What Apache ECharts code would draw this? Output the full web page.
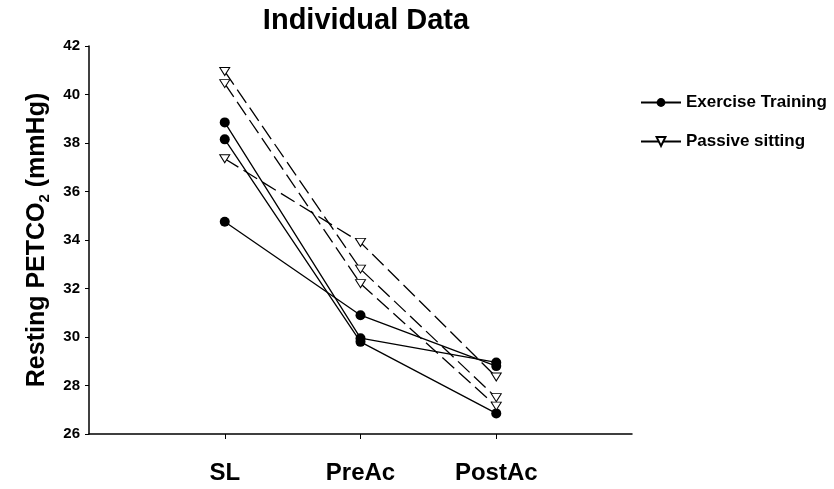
<!DOCTYPE html>
<html>
<head>
<meta charset="utf-8">
<script src="https://cdn.jsdelivr.net/npm/echarts@6/dist/echarts.min.js"></script>
<style>html,body{margin:0;padding:0;background:#fff;}#c{width:834px;height:489px;}</style>
</head>
<body>
<div id="c"></div>
<script>
const categories = ['SL', 'PreAc', 'PostAc'];
const yTicks = [26, 28, 30, 32, 34, 36, 38, 40, 42];
// Exercise Training subjects
const ex1 = [38.85, 29.95, 28.95];
const ex2 = [38.15, 29.8, 26.85];
const ex3 = [34.75, 30.9, 28.8];
// Passive sitting subjects
const ps1 = [40.95, 32.8, 27.5];
const ps2 = [40.45, 32.2, 27.15];
const ps3 = [37.35, 33.9, 28.35];

const FONT = '"Liberation Sans", Arial, Helvetica, sans-serif';
const axisData = [''].concat(categories, ['']);
const toPairs = arr => categories.map((c, i) => [c, arr[i]]);

function exSeries(arr) {
  return {
    name: 'Exercise Training', type: 'line', data: toPairs(arr),
    symbol: 'circle', symbolSize: 10,
    itemStyle: { color: '#000' },
    lineStyle: { color: '#000', width: 1.3, type: 'solid' },
    emphasis: { disabled: true }, animation: false
  };
}
function psSeries(arr) {
  return {
    name: 'Passive sitting', type: 'line', data: toPairs(arr),
    symbol: 'triangle', symbolSize: [10, 8], symbolRotate: 180,
    itemStyle: { color: '#fff', borderColor: '#000', borderWidth: 1 },
    lineStyle: { color: '#000', width: 1.3, type: [16, 6] },
    emphasis: { disabled: true }, animation: false, z: 3
  };
}

const chart = echarts.init(document.getElementById('c'), null, { renderer: 'canvas' });
chart.setOption({
  backgroundColor: '#fff',
  animation: false,
  title: {
    text: 'Individual Data', left: 361, top: 1, textAlign: 'center',
    textStyle: { fontFamily: FONT, fontSize: 29, fontWeight: 'bold', color: '#000' }
  },
  legend: {
    orient: 'vertical', left: 635, top: 89, itemWidth: 40, itemHeight: 11, itemGap: 22,
    textStyle: { fontFamily: FONT, fontSize: 17, fontWeight: 'bold', color: '#000' },
    data: [
      { name: 'Exercise Training' },
      { name: 'Passive sitting', lineStyle: { type: 'solid' } }
    ]
  },
  grid: { left: 89, right: 202, top: 46, bottom: 55 },
  xAxis: {
    type: 'category', data: axisData, boundaryGap: false,
    axisLine: { lineStyle: { color: '#000', width: 1.5 } },
    axisTick: { show: true, length: 5, lineStyle: { color: '#000', width: 1 },
      interval: (i, v) => v !== '' },
    axisLabel: { interval: 0, margin: 27, fontFamily: FONT, fontSize: 24, fontWeight: 'bold', color: '#000' },
    splitLine: { show: false }
  },
  yAxis: {
    type: 'value', min: yTicks[0], max: yTicks[yTicks.length - 1], interval: 2,
    name: '{a|Resting PETCO}{b|2}{a| (mmHg)}', nameLocation: 'middle', nameGap: 37,
    nameTextStyle: {
      fontFamily: FONT, fontWeight: 'bold', color: '#000',
      rich: {
        a: { fontFamily: FONT, fontSize: 25, fontWeight: 'bold', color: '#000', lineHeight: 29 },
        b: { fontFamily: FONT, fontSize: 15, fontWeight: 'bold', color: '#000', verticalAlign: 'bottom', lineHeight: 15 }
      }
    },
    axisLine: { show: true, lineStyle: { color: '#000', width: 1.5 } },
    axisTick: { show: true, length: 4, lineStyle: { color: '#000', width: 1 } },
    axisLabel: { margin: 9, fontFamily: FONT, fontSize: 15, fontWeight: 'bold', color: '#000' },
    splitLine: { show: false }
  },
  series: [exSeries(ex1), exSeries(ex2), exSeries(ex3), psSeries(ps1), psSeries(ps2), psSeries(ps3)]
});
</script>
</body>
</html>
